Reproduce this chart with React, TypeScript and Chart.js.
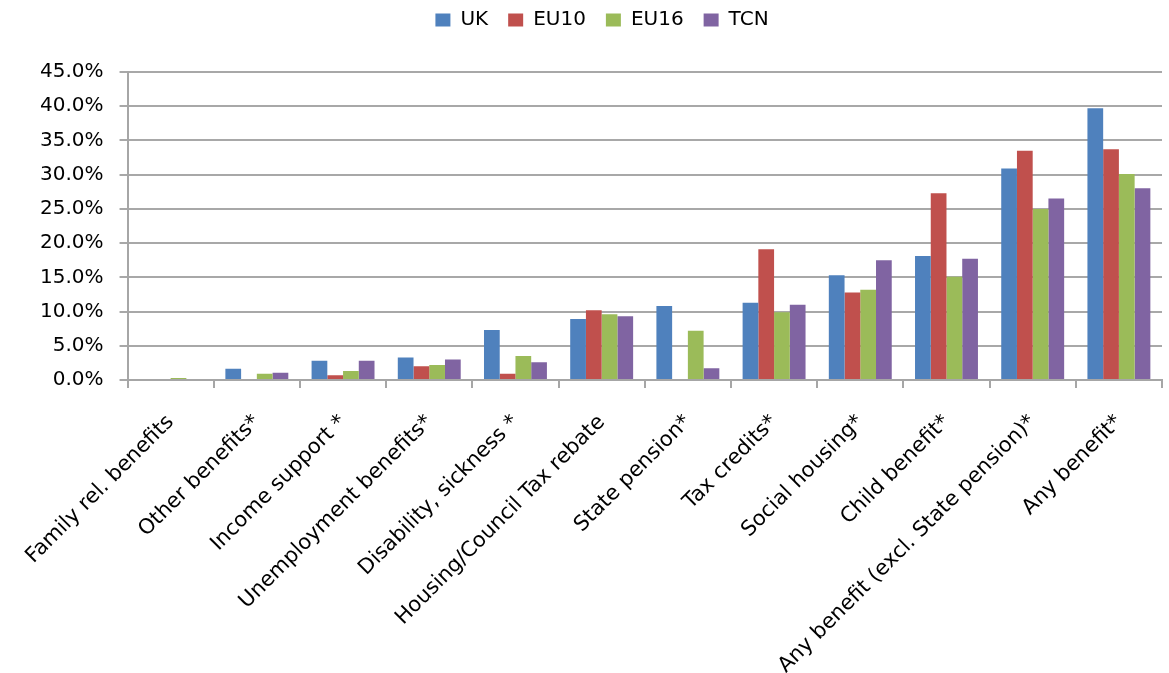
import React, { useEffect, useRef } from "react";
import { Chart, registerables } from "chart.js";

Chart.register(...registerables);

const categories = [
  "Family rel. benefits",
  "Other benefits*",
  "Income support *",
  "Unemployment benefits*",
  "Disability, sickness *",
  "Housing/Council Tax rebate",
  "State pension*",
  "Tax credits*",
  "Social housing*",
  "Child benefit*",
  "Any benefit (excl. State pension)*",
  "Any benefit*",
];

const ukValues = [0, 1.65, 2.8, 3.3, 7.3, 8.9, 10.8, 11.3, 15.3, 18.1, 30.9, 39.7];
const eu10Values = [0, 0, 0.7, 2.0, 0.9, 10.2, 0, 19.1, 12.8, 27.3, 33.5, 33.7];
const eu16Values = [0.3, 0.9, 1.3, 2.2, 3.5, 9.6, 7.2, 9.9, 13.2, 15.1, 25.0, 30.1];
const tcnValues = [0, 1.05, 2.8, 3.0, 2.6, 9.3, 1.7, 11.0, 17.5, 17.7, 26.5, 28.0];

const seriesNames = ["UK", "EU10", "EU16", "TCN"];
const seriesColors = ["#4F81BD", "#C0504D", "#9BBB59", "#8064A2"];

const FONT = "'DejaVu Sans', sans-serif";

const legendGap = {
  id: "legendGap",
  beforeLayout(chart: any) {
    const lg = chart.legend;
    if (lg && !lg.__patched) {
      const orig = lg.fit;
      lg.fit = function (...args: any[]) {
        orig.apply(this, args);
        this.height = 72;
      };
      lg.__patched = true;
    }
  },
  afterLayout(chart: any) {
    const lg = chart.legend;
    if (lg) {
      lg.left += 14;
      lg.right += 14;
    }
  },
};

export default function App() {
  const ref = useRef<HTMLCanvasElement | null>(null);

  useEffect(() => {
    if (!ref.current) return;
    const values = [ukValues, eu10Values, eu16Values, tcnValues];
    const chart = new Chart(ref.current, {
      type: "bar",
      data: {
        labels: categories,
        datasets: seriesNames.map((name, i) => ({
          label: name,
          data: values[i],
          backgroundColor: seriesColors[i],
          borderWidth: 0,
          categoryPercentage: 0.73,
          barPercentage: 1,
        })),
      },
      plugins: [legendGap],
      options: {
        responsive: false,
        animation: false,
        layout: { padding: { left: 24, right: 7, top: 0, bottom: 0 } },
        plugins: {
          tooltip: { enabled: false },
          legend: {
            position: "top",
            labels: {
              boxWidth: 15,
              boxHeight: 13,
              padding: 10,
              color: "#000",
              font: { family: FONT, size: 20 },
              generateLabels: (chart: any) =>
                Chart.defaults.plugins.legend.labels
                  .generateLabels(chart)
                  .map((l: any) => ({ ...l, text: l.text + "\u2002" })),
            },
          },
        },
        scales: {
          x: {
            afterFit: (scale: any) => {
              scale.height = 293;
            },
            grid: {
              offset: true,
              drawOnChartArea: false,
              drawTicks: true,
              tickLength: 8,
              color: "#a6a6a6",
              lineWidth: 2,
            },
            border: { color: "#a6a6a6", width: 2 },
            ticks: {
              autoSkip: false,
              minRotation: 45,
              maxRotation: 45,
              padding: 22,
              color: "#000",
              font: { family: FONT, size: 21 },
            },
          },
          y: {
            min: 0,
            max: 45,
            grid: {
              color: "#a8a8a8",
              lineWidth: 2,
              drawTicks: true,
              tickLength: 8,
            },
            border: { color: "#a6a6a6", width: 2 },
            ticks: {
              stepSize: 5,
              padding: 16,
              color: "#000",
              font: { family: FONT, size: 20 },
              callback: (v: any) => Number(v).toFixed(1) + "%",
            },
          },
        },
      },
    });
    return () => chart.destroy();
  }, []);

  return (
    <div style={{ position: "fixed", left: 0, top: 0, width: 1169, height: 673, background: "#fff" }}>
      <canvas ref={ref} width={1169} height={673} />
    </div>
  );
}
